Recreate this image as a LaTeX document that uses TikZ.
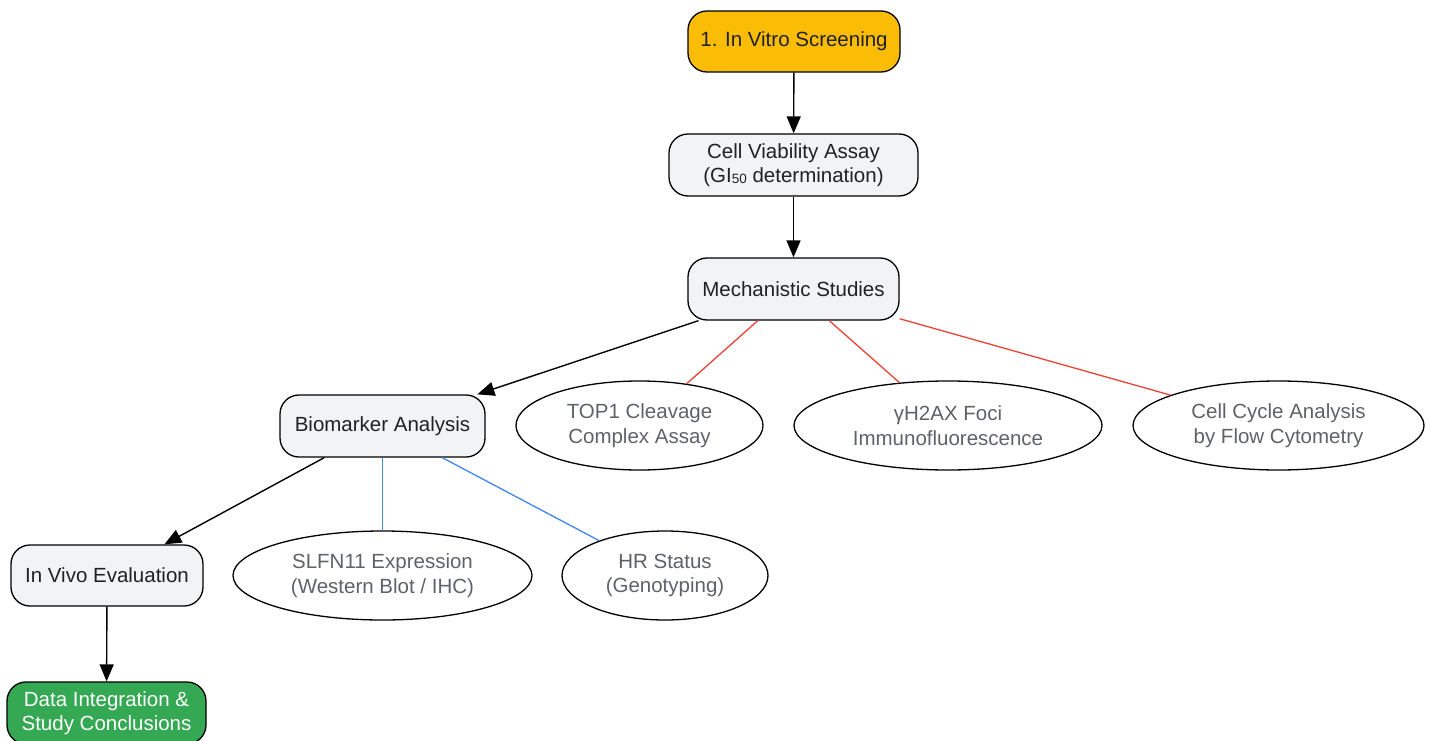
\documentclass[tikz,border=0pt]{standalone}
\usepackage{fontspec}
\setmainfont{Liberation Sans}
\usetikzlibrary{shapes.geometric,arrows.meta}
\definecolor{amber}{HTML}{FBBC05}
\definecolor{boxgray}{HTML}{F1F3F4}
\definecolor{gtext}{HTML}{202124}
\definecolor{etext}{HTML}{5F6368}
\definecolor{ggreen}{HTML}{34A853}
\definecolor{lred}{HTML}{EA4335}
\definecolor{lblue}{HTML}{4285F4}
\tikzset{
  stepbox/.style={draw=black, line width=1.3pt, rounded corners=19pt, fill=boxgray,
    text=gtext, align=center, inner sep=0pt, font=\fontsize{20.5}{24.5}\selectfont},
  ovalnode/.style={ellipse, draw=black, line width=1.3pt, fill=white, text=etext,
    align=center, inner sep=0pt, font=\fontsize{20.5}{24.5}\selectfont},
  arr/.style={draw=black, line width=1.4pt, -{Triangle[length=17pt,width=14pt]}},
  redline/.style={draw=lred, line width=1.3pt},
  blueline/.style={draw=lblue, line width=1.3pt}
}
\begin{document}
\begin{tikzpicture}[x=1pt,y=-1pt]
\useasboundingbox (0,0) rectangle (1434,741);
\node[stepbox, fill=amber, minimum width=212pt, minimum height=61pt] (start) at (794,41.5) {1. In Vitro Screening};
\node[stepbox, minimum width=249pt, minimum height=62pt] (via) at (793.5,165) {Cell Viability Assay\\(GI\raisebox{-0.5pt}{\fontsize{13.5}{13.5}\selectfont 50} determination)};
\node[stepbox, minimum width=211pt, minimum height=62pt] (mech) at (793.5,289) {Mechanistic Studies};
\node[stepbox, minimum width=205pt, minimum height=62pt] (bio) at (382.5,426) {Biomarker Analysis};
\node[ovalnode, minimum width=247pt, minimum height=89pt] (top1) at (639.5,425.5) {TOP1 Cleavage\\Complex Assay};
\node[ovalnode, minimum width=308pt, minimum height=89pt] (gh2ax) at (948,425.5) {γH2AX Foci\\Immunofluorescence};
\node[ovalnode, minimum width=291pt, minimum height=89pt] (cycle) at (1278.5,425.5) {Cell Cycle Analysis\\by Flow Cytometry};
\node[stepbox, minimum width=192pt, minimum height=61pt] (vivo) at (107,575.5) {In Vivo Evaluation};
\node[ovalnode, minimum width=299pt, minimum height=89pt] (slfn) at (382.5,575.5) {SLFN11 Expression\\(Western Blot / IHC)};
\node[ovalnode, minimum width=206pt, minimum height=89pt] (hr) at (665,575.5) {HR Status\\(Genotyping)};
\node[stepbox, fill=ggreen, text=white, minimum width=199pt, minimum height=62pt] (data) at (106.5,713) {Data Integration \&\\Study Conclusions};
\draw[arr] (start) -- (via);
\draw[arr] (via) -- (mech);
\draw[arr] (mech) -- (bio);
\draw[redline] (mech) -- (top1);
\draw[redline] (mech) -- (gh2ax);
\draw[redline] (mech) -- (cycle);
\draw[arr] (bio) -- (vivo);
\draw[blueline] (bio) -- (slfn);
\draw[blueline] (bio) -- (hr);
\draw[arr] (vivo) -- (data);
\end{tikzpicture}
\end{document}
